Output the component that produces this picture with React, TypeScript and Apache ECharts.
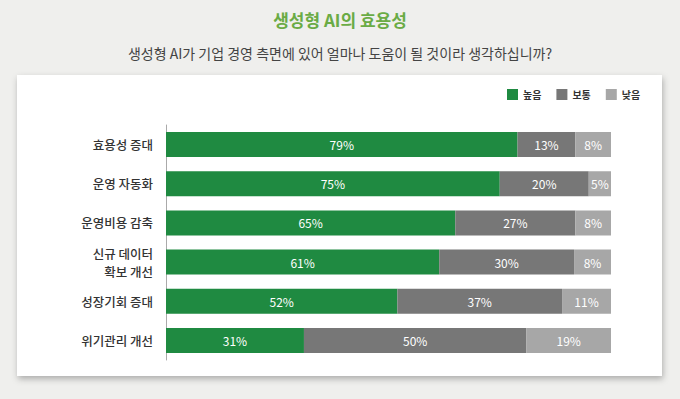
import React, { useEffect, useRef } from "react";
import * as echarts from "echarts";

const categories = ["효용성 증대", "운영 자동화", "운영비용 감축", "신규 데이터\n확보 개선", "성장기회 증대", "위기관리 개선"];
const highValues = [79, 75, 65, 61.4, 52, 31];
const midValues = [13, 20, 27, 30.3, 37, 50];
const lowValues = [8, 5, 8, 8.3, 11, 19];
const seriesNames = ["높음", "보통", "낮음"];
const colors = ["#1f8a41", "#777777", "#a7a7a7"];

const FONT = "'Noto Sans CJK KR', 'Noto Sans', sans-serif";

export default function App() {
  const ref = useRef<HTMLDivElement>(null);
  useEffect(() => {
    if (!ref.current) return;
    const chart = echarts.init(ref.current, null, { renderer: "svg" });
    const mk = (name: string, data: number[], color: string) => ({
      name,
      type: "bar",
      stack: "total",
      data,
      barWidth: 25,
      itemStyle: { color },
      label: {
        show: true,
        position: "inside",
        color: "#ffffff",
        fontSize: 12,
        fontFamily: FONT,
        formatter: (p: any) => Math.round(p.value) + "%",
      },
    });
    chart.setOption({
      animation: false,
      backgroundColor: "#efefed",
      textStyle: { fontFamily: FONT },
      graphic: [
        {
          type: "rect",
          shape: { x: 17, y: 75, width: 645, height: 301 },
          style: {
            fill: "#ffffff",
            shadowBlur: 6,
            shadowOffsetY: 3,
            shadowOffsetX: 1,
            shadowColor: "rgba(0,0,0,0.28)",
          },
          z: -10,
        },
      ],
      title: [
        {
          text: "생성형 AI의 효용성",
          left: "center",
          top: 6,
          textStyle: { fontSize: 17, fontWeight: "bold", color: "#6aab45", fontFamily: FONT },
        },
        {
          text: "생성형 AI가 기업 경영 측면에 있어 얼마나 도움이 될 것이라 생각하십니까?",
          left: "center",
          top: 41,
          textStyle: { fontSize: 14, fontWeight: "normal", color: "#444444", fontFamily: FONT },
        },
      ],
      legend: {
        data: seriesNames,
        left: 502,
        top: 84,
        icon: "rect",
        itemWidth: 11,
        itemHeight: 11,
        itemGap: 15,
        textStyle: { fontSize: 10, fontWeight: "bold", color: "#333333", fontFamily: FONT },
      },
      grid: { left: 166, right: 69, top: 125, height: 235 },
      xAxis: { type: "value", min: 0, max: 100, show: false },
      yAxis: {
        type: "category",
        data: categories,
        inverse: true,
        axisLine: { show: true, lineStyle: { color: "#aaaaaa", width: 1 } },
        axisTick: { show: false },
        axisLabel: {
          margin: 13,
          fontSize: 12.5,
          color: "#333333",
          fontWeight: 500,
          fontFamily: FONT,
          lineHeight: 18,
          align: "right",
        },
      },
      series: [
        mk(seriesNames[0], highValues, colors[0]),
        mk(seriesNames[1], midValues, colors[1]),
        mk(seriesNames[2], lowValues, colors[2]),
      ],
    });
    return () => chart.dispose();
  }, []);
  return <div ref={ref} style={{ position: "fixed", left: 0, top: 0, width: 680, height: 399 }} />;
}
